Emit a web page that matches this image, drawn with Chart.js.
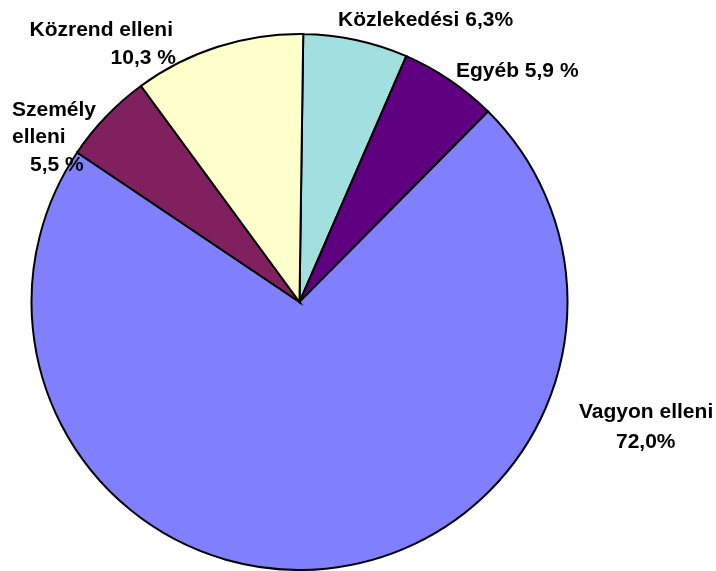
<!DOCTYPE html>
<html>
<head>
<meta charset="utf-8">
<script src="https://cdn.jsdelivr.net/npm/chart.js@4/dist/chart.umd.min.js"></script>
<style>
  html, body { margin: 0; padding: 0; background: #ffffff; }
  #wrap { position: relative; width: 716px; height: 571px; }
</style>
</head>
<body>
<div id="wrap"><canvas id="c" width="716" height="571"></canvas></div>
<script>
// Categories (clockwise from 12 o'clock)
const categories = ["Közlekedési", "Egyéb", "Vagyon elleni", "Személy elleni", "Közrend elleni"];
// Share of offences, %
const shares = [6.3, 5.9, 72.0, 5.5, 10.3];
// Slice colours
const sliceColors = ["#A2E0E0", "#5F0080", "#8080FF", "#80205F", "#FFFFCC"];
// Label text lines as printed in the picture
const labelLines = [
  ["Közlekedési 6,3%"],
  ["Egyéb 5,9 %"],
  ["Vagyon elleni", "72,0%"],
  ["Személy", "elleni", "5,5 %"],
  ["Közrend elleni", "10,3 %"]
];

// Label placement (pixels): per line [x, y, align]
const labelPlacement = [
  [[338, 20, "left"]],
  [[456, 71, "left"]],
  [[579, 412, "left"], [616, 442, "left"]],
  [[12, 110, "left"], [12, 137, "left"], [30, 165, "left"]],
  [[173, 30, "right"], [176, 58, "right"]]
];

const labelPlugin = {
  id: "sliceLabels",
  afterDraw(chart) {
    const ctx = chart.ctx;
    ctx.save();
    ctx.fillStyle = "#000000";
    ctx.font = "bold 21px 'Liberation Sans', Arial, sans-serif";
    ctx.textBaseline = "middle";
    labelLines.forEach((lines, i) => {
      lines.forEach((t, j) => {
        const p = labelPlacement[i][j];
        ctx.textAlign = p[2];
        ctx.fillText(t, p[0], p[1]);
      });
    });
    ctx.restore();
  }
};

new Chart(document.getElementById("c"), {
  type: "pie",
  data: {
    labels: categories,
    datasets: [{
      data: shares,
      backgroundColor: sliceColors,
      borderColor: "#000000",
      borderWidth: 2,
      borderJoinStyle: "miter"
    }]
  },
  options: {
    responsive: false,
    animation: false,
    rotation: 0.8,
    layout: { padding: { left: 30.5, top: 33, right: 147.5, bottom: 0 } },
    plugins: {
      legend: { display: false },
      tooltip: { enabled: false },
      title: { display: false }
    }
  },
  plugins: [labelPlugin]
});
</script>
</body>
</html>
